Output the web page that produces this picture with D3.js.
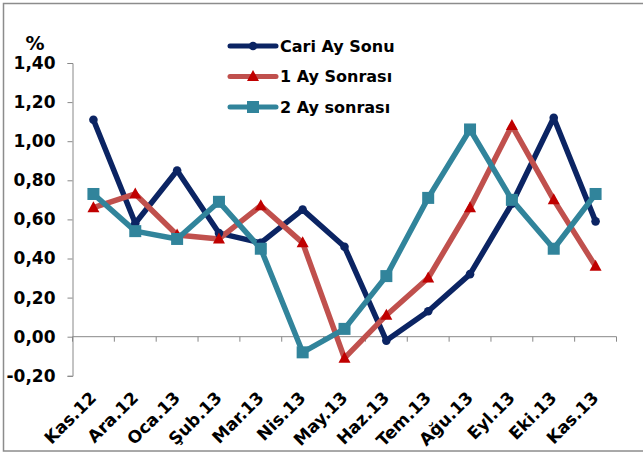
<!DOCTYPE html>
<html>
<head>
<meta charset="utf-8">
<script src="https://cdn.jsdelivr.net/npm/d3@7"></script>
<style>
  body { margin: 0; background: #fff; }
  svg { display: block; font-family: Tahoma, "DejaVu Sans", Verdana, sans-serif; font-weight: bold; }
</style>
</head>
<body>
<div id="chart"></div>
<script>
// months on the x axis
const months = ["Kas.12", "Ara.12", "Oca.13", "Şub.13", "Mar.13", "Nis.13", "May.13",
                "Haz.13", "Tem.13", "Ağu.13", "Eyl.13", "Eki.13", "Kas.13"];

// series values (%)
const cariAySonu  = [1.11, 0.58, 0.85, 0.53, 0.48, 0.65, 0.46, -0.02, 0.13, 0.32, 0.68, 1.12, 0.59];
const birAySonra  = [0.66, 0.73, 0.52, 0.50, 0.67, 0.48, -0.11, 0.11, 0.30, 0.66, 1.08, 0.70, 0.36];
const ikiAySonra  = [0.73, 0.54, 0.50, 0.69, 0.45, -0.08, 0.04, 0.31, 0.71, 1.06, 0.70, 0.45, 0.73];

const yTicks = [-0.2, 0, 0.2, 0.4, 0.6, 0.8, 1.0, 1.2, 1.4];

const series = [
  { name: "Cari Ay Sonu", values: cariAySonu, line: "#0b2463", marker: "circle", mcolor: "#0b2463" },
  { name: "1 Ay Sonrası", values: birAySonra, line: "#c0504d", marker: "triangle", mcolor: "#c00000" },
  { name: "2 Ay sonrası", values: ikiAySonra, line: "#31849b", marker: "square", mcolor: "#31849b" }
];

const width = 643, height = 455;
const svg = d3.select("#chart").append("svg")
  .attr("width", width)
  .attr("height", height);

// outer frame (runs off the right edge like the original)
svg.append("rect")
  .attr("x", 3.5).attr("y", 3.5)
  .attr("width", 645).attr("height", 447.5)
  .attr("fill", "none")
  .attr("stroke", "#8c8c8c")
  .attr("stroke-width", 1.5);

const x = d3.scaleBand().domain(months).range([72.5, 616.5]);
const y = d3.scaleLinear().domain([-0.2, 1.4]).range([375.8, 63]);

// y axis
const yAxis = svg.append("g")
  .attr("transform", "translate(72.5,0)")
  .call(d3.axisLeft(y).tickValues(yTicks).tickSize(5).tickPadding(12)
    .tickFormat(d => d3.format(".2f")(d).replace(".", ",").replace("−", "-")));
yAxis.attr("font-size", null).attr("font-family", null);
yAxis.select(".domain").attr("stroke", "#888").attr("stroke-width", 1);
yAxis.selectAll(".tick line").attr("stroke", "#888");
yAxis.selectAll("text").attr("fill", "#000").style("font-size", "17px");

svg.append("text")
  .attr("x", 35).attr("y", 50)
  .attr("text-anchor", "middle")
  .style("font-size", "19px")
  .text("%");

// x axis line at zero with its ticks
svg.append("line")
  .attr("x1", x.range()[0]).attr("x2", x.range()[1])
  .attr("y1", y(0)).attr("y2", y(0))
  .attr("stroke", "#888");
svg.append("g").selectAll("line")
  .data(d3.range(months.length + 1))
  .join("line")
    .attr("x1", i => x.range()[0] + i * x.step())
    .attr("x2", i => x.range()[0] + i * x.step())
    .attr("y1", y(0)).attr("y2", y(0) + 5)
    .attr("stroke", "#888");

// rotated month labels below the plot
svg.append("g").selectAll("text")
  .data(months)
  .join("text")
    .attr("transform", d => `translate(${x(d) + x.bandwidth() / 2 + 4},${399}) rotate(-45)`)
    .attr("text-anchor", "end")
    .style("font-size", "17px")
    .text(d => d);

const cx = d => x(d) + x.bandwidth() / 2;
const line = d3.line().x((v, i) => cx(months[i])).y(v => y(v));

series.forEach(s => {
  svg.append("path")
    .datum(s.values)
    .attr("fill", "none")
    .attr("stroke", s.line)
    .attr("stroke-width", 5.5)
    .attr("stroke-linejoin", "round")
    .attr("d", line);
});

function drawMarker(g, type, color, px, py) {
  if (type === "circle") {
    g.append("circle").attr("cx", px).attr("cy", py).attr("r", 4.3).attr("fill", color);
  } else if (type === "triangle") {
    g.append("path")
      .attr("d", `M${px},${py - 6.5}L${px + 6},${py + 4.5}L${px - 6},${py + 4.5}Z`)
      .attr("fill", color);
  } else {
    g.append("rect").attr("x", px - 6).attr("y", py - 6)
      .attr("width", 12).attr("height", 12).attr("fill", color);
  }
}

series.forEach(s => {
  const g = svg.append("g");
  s.values.forEach((v, i) => drawMarker(g, s.marker, s.mcolor, cx(months[i]), y(v)));
});

// legend
const legend = svg.append("g");
series.forEach((s, i) => {
  const ly = 46 + i * 30.5;
  legend.append("line")
    .attr("x1", 230).attr("x2", 276)
    .attr("y1", ly).attr("y2", ly)
    .attr("stroke", s.line).attr("stroke-width", 5).attr("stroke-linecap", "round");
  drawMarker(legend, s.marker, s.mcolor, 253, ly);
  legend.append("text")
    .attr("x", 280).attr("y", ly + 5.5)
    .style("font-size", "16px")
    .text(s.name);
});
</script>
</body>
</html>
